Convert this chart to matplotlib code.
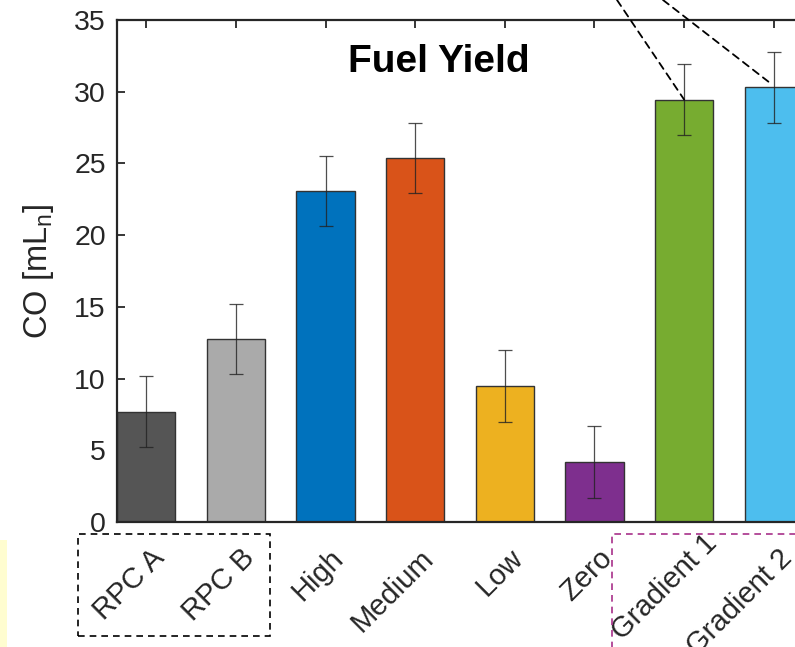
import matplotlib
matplotlib.use("Agg")
import matplotlib.pyplot as plt
from matplotlib.patches import Rectangle, ConnectionPatch
import matplotlib.transforms as mtransforms
import numpy as np

categories = ["RPC A", "RPC B", "High", "Medium", "Low", "Zero", "Gradient 1", "Gradient 2"]
values = [7.7, 12.75, 23.1, 25.4, 9.5, 4.2, 29.45, 30.3]
errors = [2.5, 2.45, 2.45, 2.45, 2.5, 2.5, 2.45, 2.48]
colors = ["#555555", "#AAAAAA", "#0072BD", "#D95319", "#EDB120", "#7E2F8E", "#77AC30", "#4DBEEE"]
yticks = [0, 5, 10, 15, 20, 25, 30, 35]

plt.rcParams['font.family'] = ['Liberation Sans', 'DejaVu Sans']

W, H = 795, 647
fig = plt.figure(figsize=(W / 100, H / 100), dpi=100)

def fx(px):
    return px / W

def fy(py):
    return 1 - py / H

ax = fig.add_axes([fx(117), fy(522), fx(850) - fx(117), fy(20) - fy(522)])
x = np.arange(1, len(categories) + 1)
ax.bar(x, values, width=0.652, color=colors, edgecolor="#333333", linewidth=1.0, zorder=2)
ax.errorbar(x, values, yerr=errors, fmt='none', ecolor="#222222", elinewidth=0.9,
            capsize=4.8, capthick=0.9, alpha=0.8, zorder=3)

ax.set_xlim(0.674, 8.85)
ax.set_ylim(0, 35)
ax.set_yticks(yticks)
ax.set_xticks(x)
ax.set_xticklabels([])
ax.set_axisbelow(True)
ax.tick_params(axis='both', direction='in', length=6, width=1.3, labelsize=20.5, pad=8, colors='#262626')
ax.tick_params(axis='x', top=True, bottom=True)
for s in ax.spines.values():
    s.set_linewidth(1.6)
    s.set_color('#262626')
    s.set_zorder(4)

# rotated x labels (the "Gradient 1" label sits slightly higher/right in the original)
for i, (xi, lab) in enumerate(zip(x, categories)):
    dx, dy = (4, -22) if lab != "Gradient 1" else (19, -7)
    offset = mtransforms.ScaledTranslation(dx / 100, dy / 100, fig.dpi_scale_trans)
    ax.text(xi, 0, lab, rotation=45, rotation_mode='anchor', ha='right', va='top',
            fontsize=21, color='#262626', transform=ax.get_xaxis_transform() + offset,
            clip_on=False)

ax.set_ylabel("CO [mL$_\\mathregular{n}$]", fontsize=23.5, color='#262626', labelpad=13)

fig.text(fx(439), fy(62), "Fuel Yield", fontsize=28, fontweight='bold', ha='center', va='center')

# dashed boxes around label groups
fig.add_artist(Rectangle((fx(78), fy(636)), fx(270) - fx(78), fy(534) - fy(636),
                         transform=fig.transFigure, fill=False, edgecolor='black',
                         linestyle=(0, (4, 3)), linewidth=1.2, clip_on=False))
fig.add_artist(Rectangle((fx(612), fy(700)), fx(900) - fx(612), fy(534) - fy(700),
                         transform=fig.transFigure, fill=False, edgecolor='#A8308A',
                         linestyle=(0, (4, 3)), linewidth=1.2, clip_on=False))

# yellow strip at left edge
fig.add_artist(Rectangle((0, 0), fx(7), fy(540), transform=fig.transFigure,
                         facecolor='#FFFDD0', edgecolor='none'))

# zoom lines from off-figure inset
cp1 = ConnectionPatch(xyA=(fx(617), 1.0), coordsA=fig.transFigure,
                      xyB=(7, values[6]), coordsB=ax.transData,
                      linestyle=(0, (4, 3)), color='black', linewidth=1.3, zorder=6)
cp2 = ConnectionPatch(xyA=(fx(663), 1.0), coordsA=fig.transFigure,
                      xyB=(7.94, values[7] + 0.4), coordsB=ax.transData,
                      linestyle=(0, (4, 3)), color='black', linewidth=1.3, zorder=6)
fig.add_artist(cp1)
fig.add_artist(cp2)

fig.savefig("out.png", dpi=100)
